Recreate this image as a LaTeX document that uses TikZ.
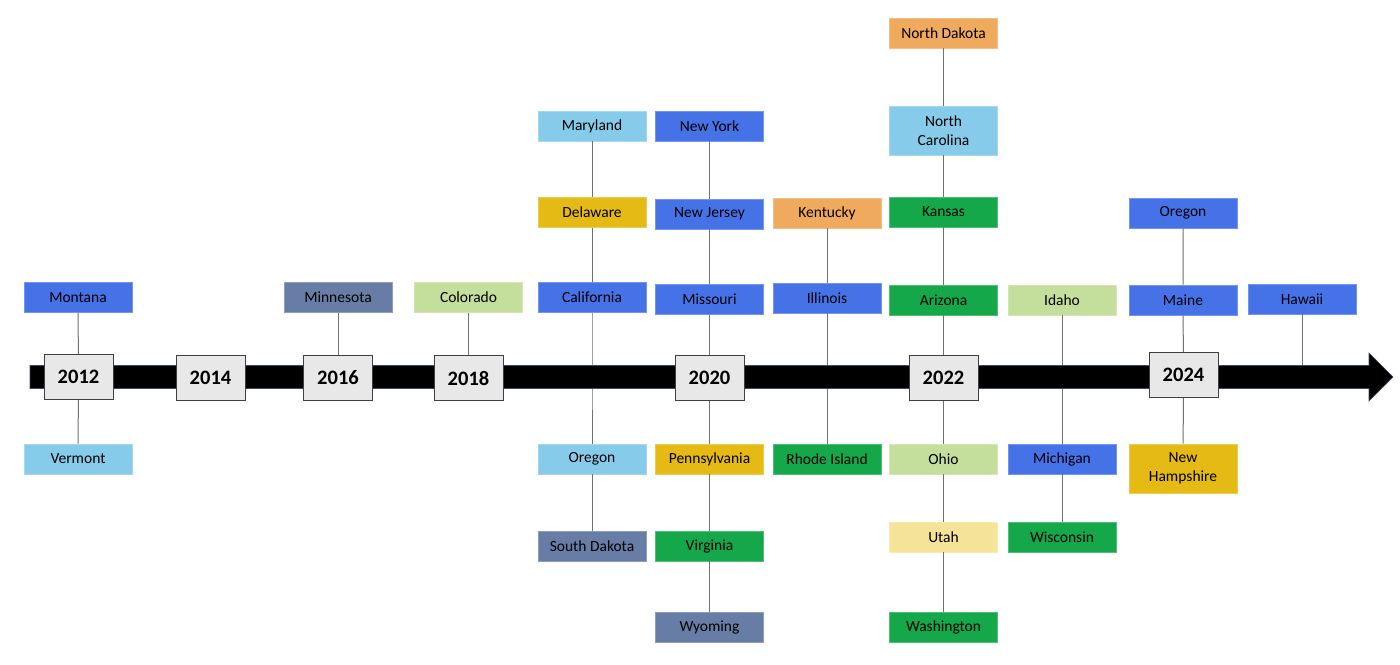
\documentclass[tikz,border=0pt]{standalone}
\usepackage{fontspec}
\setmainfont{Carlito}
\definecolor{cBlue}{HTML}{4672E8}
\definecolor{cSky}{HTML}{87CBEB}
\definecolor{cSlate}{HTML}{687DA5}
\definecolor{cLgreen}{HTML}{C4DE9C}
\definecolor{cGold}{HTML}{E6BA14}
\definecolor{cOrange}{HTML}{F0AA5E}
\definecolor{cGreen}{HTML}{14A84A}
\definecolor{cPale}{HTML}{F5E398}
\definecolor{cLine}{HTML}{707070}
\begin{document}
\begin{tikzpicture}[x=1pt,y=-1pt,
  state/.style={draw=#1!75!white, fill=#1, line width=0.8pt, minimum width=108pt, minimum height=30pt, inner sep=0pt, align=center, font=\fontsize{15.5}{19}\selectfont, text=black},
  tall/.style={minimum height=49pt},
  year/.style={draw=black!75, fill=black!9, line width=1pt, minimum width=69pt, minimum height=45pt, inner sep=0pt, font=\fontsize{20.5}{24}\selectfont\bfseries},
  link/.style={draw=cLine, line width=1pt}]
\fill[white] (0,0) rectangle (1400,664);
\useasboundingbox (0,0) rectangle (1400,664);

% state boxes
\node[state=cBlue]  (montana)   at (78,297.5) {Montana};
\node[state=cSky]   (vermont)   at (78,459) {Vermont};
\node[state=cSlate] (minnesota) at (338,297.5) {Minnesota};
\node[state=cLgreen](colorado)  at (468.5,297.5) {Colorado};

\node[state=cSky]   (maryland)  at (592,126) {Maryland};
\node[state=cGold]  (delaware)  at (592,212.5) {Delaware};
\node[state=cBlue]  (california) at (592,297.5) {California};
\node[state=cSky]   (oregonA)   at (592,459) {Oregon};
\node[state=cSlate] (southdakota) at (592,546) {South Dakota};

\node[state=cBlue]  (newyork)   at (709.5,126) {New York};
\node[state=cBlue]  (newjersey) at (709.5,214) {New Jersey};
\node[state=cBlue]  (missouri)  at (709.5,299.5) {Missouri};
\node[state=cGold]  (pennsylvania) at (709.5,459) {Pennsylvania};
\node[state=cGreen] (virginia)  at (709.5,546) {Virginia};
\node[state=cSlate] (wyoming)   at (709.5,627) {Wyoming};

\node[state=cOrange](kentucky)  at (827,213) {Kentucky};
\node[state=cBlue]  (illinois)  at (827,298) {Illinois};
\node[state=cGreen] (rhodeisland) at (827,459) {Rhode Island};

\node[state=cOrange](northdakota) at (943.5,33) {North Dakota};
\node[state=cSky,tall] (northcarolina) at (943.5,130.5) {North\\Carolina};
\node[state=cGreen] (kansas)    at (943.5,212) {Kansas};
\node[state=cGreen] (arizona)   at (943.5,300) {Arizona};
\node[state=cLgreen](ohio)      at (943.5,459) {Ohio};
\node[state=cPale]  (utah)      at (943.5,537) {Utah};
\node[state=cGreen] (washington) at (943.5,627) {Washington};

\node[state=cLgreen](idaho)     at (1062,300) {Idaho};
\node[state=cBlue]  (michigan)  at (1062,459) {Michigan};
\node[state=cGreen] (wisconsin) at (1062,537) {Wisconsin};

\node[state=cBlue]  (oregonB)   at (1183,213) {Oregon};
\node[state=cBlue]  (maine)     at (1183,300) {Maine};
\node[state=cGold,tall] (newhampshire) at (1183,468.5) {New\\Hampshire};

\node[state=cBlue]  (hawaii)    at (1302,299) {Hawaii};

% anchor points on the axis
\coordinate (axA) at (592,377);
\coordinate (axB) at (827,377);
\coordinate (axC) at (1062,377);
\coordinate (axD) at (1302,377);
\coordinate (y12) at (78.5,376.5);
\coordinate (y16) at (338,378);
\coordinate (y18) at (468.5,378);
\coordinate (y20) at (709.5,378);
\coordinate (y22) at (943.5,378);
\coordinate (y24) at (1183.5,374.5);

% connectors
\draw[link] (montana) -- (y12) -- (vermont);
\draw[link] (minnesota) -- (y16);
\draw[link] (colorado) -- (y18);
\draw[link] (maryland) -- (delaware) -- (california) -- (axA) -- (oregonA) -- (southdakota);
\draw[link] (newyork) -- (newjersey) -- (missouri) -- (y20) -- (pennsylvania) -- (virginia) -- (wyoming);
\draw[link] (kentucky) -- (illinois) -- (axB) -- (rhodeisland);
\draw[link] (northdakota) -- (northcarolina) -- (kansas) -- (arizona) -- (y22) -- (ohio) -- (utah) -- (washington);
\draw[link] (idaho) -- (axC) -- (michigan) -- (wisconsin);
\draw[link] (oregonB) -- (maine) -- (y24) -- (newhampshire);
\draw[link] (hawaii) -- (axD);

% axis arrow
\fill[black, draw=cSlate!60!black, line width=0.6pt] (30,365.5) -- (1369,365.5) -- (1369,353) -- (1393,377) -- (1369,401) -- (1369,388.5) -- (30,388.5) -- cycle;

% year boxes
\node[year] (b2012) at (y12) {2012};
\node[year] (b2014) at (210.5,378) {2014};
\node[year] (b2016) at (y16) {2016};
\node[year] (b2018) at (y18) {2018};
\node[year] (b2020) at (y20) {2020};
\node[year] (b2022) at (y22) {2022};
\node[year] (b2024) at (y24) {2024};
\end{tikzpicture}
\end{document}
